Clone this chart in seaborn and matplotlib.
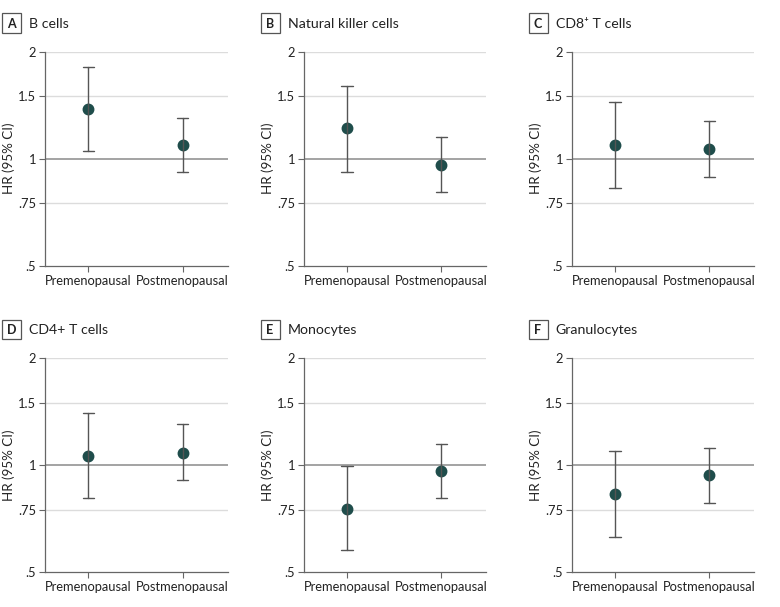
import matplotlib
matplotlib.use("Agg")
import matplotlib.pyplot as plt
from matplotlib.patches import Rectangle
from matplotlib.ticker import FixedLocator, NullLocator
import seaborn as sns
import pandas as pd

# hazard ratios with 95% CI
panels = ['A', 'B', 'C', 'D', 'E', 'F']
titles = ['B cells', 'Natural killer cells', 'CD8\u207a T cells',
          'CD4+ T cells', 'Monocytes', 'Granulocytes']
groups = ['Premenopausal', 'Postmenopausal']

hr_pre = [1.38, 1.22, 1.09, 1.06, 0.755, 0.83]
lo_pre = [1.05, 0.915, 0.825, 0.81, 0.578, 0.628]
hi_pre = [1.81, 1.60, 1.44, 1.40, 0.995, 1.095]

hr_post = [1.09, 0.96, 1.067, 1.083, 0.962, 0.937]
lo_post = [0.916, 0.805, 0.89, 0.909, 0.808, 0.785]
hi_post = [1.305, 1.153, 1.276, 1.304, 1.151, 1.119]

yticks = [0.5, 0.75, 1, 1.5, 2]
ytick_labels = ['.5', '.75', '1', '1.5', '2']

sns.set_style("white")
plt.rcParams['font.family'] = ['Lato', 'DejaVu Sans']

W, H = 780, 607
fig = plt.figure(figsize=(W / 100, H / 100), dpi=100)

ax_left = [45.3, 304, 572]
ax_top = [51.7, 358.3]
ax_w, ax_h = 182.4, 214

dot_col = '#1f4d4b'
err_col = '#555555'

for i, p in enumerate(panels):
    r, c = divmod(i, 3)
    lx, ty = ax_left[c], ax_top[r]
    ax = fig.add_axes([lx / W, 1 - (ty + ax_h) / H, ax_w / W, ax_h / H])
    ax.set_yscale('log')

    # long table: each group has lower / estimate / upper; median = estimate
    dfr = pd.DataFrame({
        'group': [groups[0]] * 3 + [groups[1]] * 3,
        'hr': [lo_pre[i], hr_pre[i], hi_pre[i], lo_post[i], hr_post[i], hi_post[i]],
    })
    sns.pointplot(data=dfr, x='group', y='hr', order=groups, ax=ax,
                  estimator='median', errorbar=lambda v: (v.min(), v.max()),
                  color=dot_col, linestyle='none', markersize=6.5,
                  capsize=0.12, err_kws={'color': err_col, 'linewidth': 1.0})

    ax.set_ylim(0.5, 2)
    ax.set_xlim(-0.457, 1.477)
    ax.yaxis.set_major_locator(FixedLocator(yticks))
    ax.yaxis.set_minor_locator(NullLocator())
    ax.set_yticklabels(ytick_labels)
    for v in yticks[1:]:
        if v == 1:
            ax.axhline(v, color='#8a8a8a', lw=1.1, zorder=0)
        else:
            ax.axhline(v, color='#dcdcdc', lw=1.0, zorder=0)

    sns.despine(ax=ax)
    for s in ['left', 'bottom']:
        ax.spines[s].set_color('#666666')
        ax.spines[s].set_linewidth(0.9)
    ax.tick_params(axis='both', length=4, width=0.8, color='#666666',
                   labelsize=9.3, labelcolor='#222222', pad=2.5, direction='out')
    ax.tick_params(axis='y', left=True)
    ax.tick_params(axis='x', bottom=True)
    ax.set_xlabel('')
    ax.set_ylabel('HR (95% CI)', fontsize=9.6, color='#222222')
    ax.yaxis.set_label_coords(-30 / ax_w, 0.5)

    # panel letter box and title
    bx = lx - 43.5
    by = ty - 38.4
    fig.add_artist(Rectangle((bx / W, 1 - (by + 19.4) / H), 19 / W, 19.4 / H,
                             transform=fig.transFigure, fill=False,
                             edgecolor='#555555', lw=0.9))
    fig.text((bx + 9.5) / W, 1 - (by + 10.2) / H, p, ha='center', va='center',
             fontsize=9, fontweight='bold', color='#222222')
    fig.text((bx + 27) / W, 1 - (by + 10.2) / H, titles[i], ha='left',
             va='center', fontsize=10.2, color='#222222')

fig.savefig('out.png', dpi=100)
